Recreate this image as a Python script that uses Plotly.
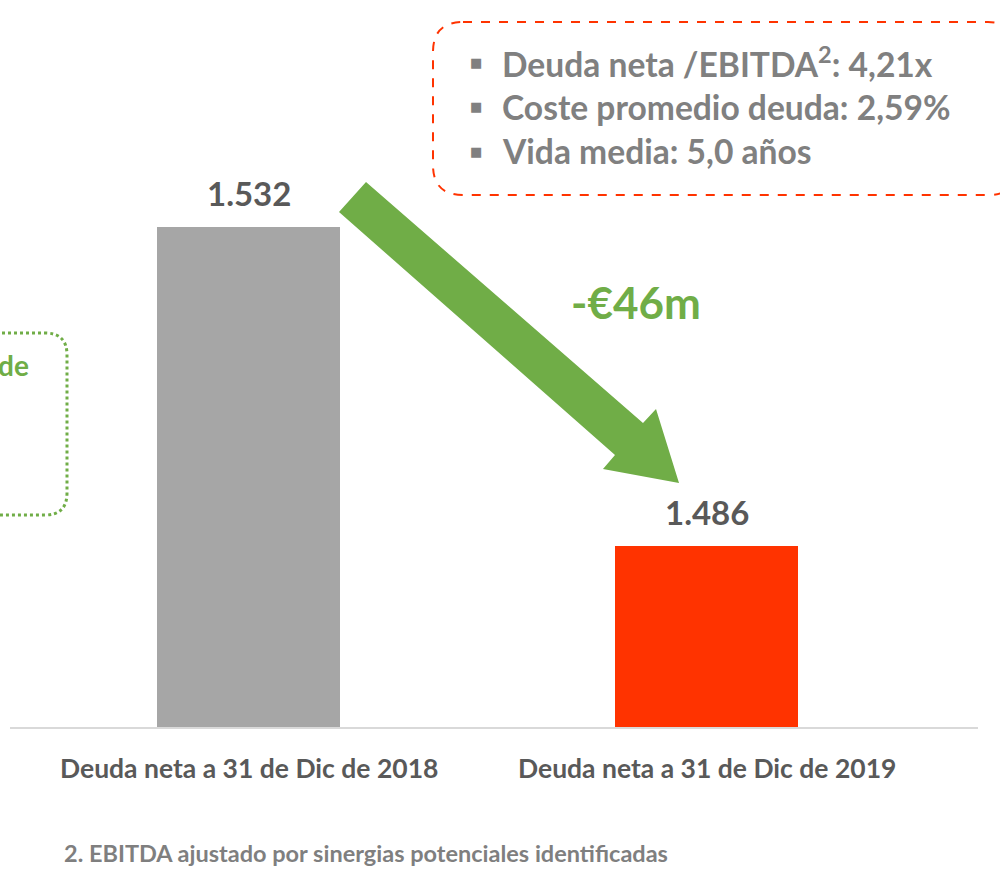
import plotly.graph_objects as go

categories = ["Deuda neta a 31 de Dic de 2018", "Deuda neta a 31 de Dic de 2019"]
values = [1532, 1486]
value_labels = ["1.532", "1.486"]
bar_colors = ["#a6a6a6", "#ff3300"]
change_label = "-€46m"
bullets = ["Deuda neta /EBITDA<sup>2</sup>: 4,21x", "Coste promedio deuda: 2,59%", "Vida media: 5,0 años"]
footnote = "2. EBITDA ajustado por sinergias potenciales identificadas"

FONT = "Lato"
W, H = 1000, 869
L, R, T, B = 10, 22, 0, 142
PW, PH = W - L - R, H - T - B


def fx(px):
    return (px - L) / PW


def fy(py):
    return (H - B - py) / PH


fig = go.Figure()
fig.add_trace(go.Bar(
    x=[0, 1], y=[v - 1459.9 for v in values], base=1459.9,
    marker=dict(color=bar_colors, line=dict(width=0)),
    width=0.4, hoverinfo="skip", showlegend=False,
))

ann = []
for i, (v, lab) in enumerate(zip(values, value_labels)):
    ann.append(dict(x=i, y=v, xref="x", yref="y", text=f"<b>{lab}</b>", showarrow=False,
                    yanchor="middle", yshift=34, font=dict(family=FONT, size=33, color="#595959")))
for i, c in enumerate(categories):
    ann.append(dict(x=i, y=fy(768), xref="x", yref="paper", text=f"<b>{c}</b>", showarrow=False,
                    yanchor="middle", font=dict(family=FONT, size=26.5, color="#595959")))
ann.append(dict(x=fx(62), y=fy(853), xref="paper", yref="paper", text=f"<b>{footnote}</b>",
                showarrow=False, xanchor="left", yanchor="middle",
                font=dict(family=FONT, size=23.5, color="#7f7f7f")))
ann.append(dict(x=fx(636), y=fy(302), xref="paper", yref="paper", text=f"<b>{change_label}</b>",
                showarrow=False, xanchor="center", yanchor="middle",
                font=dict(family=FONT, size=44, color="#70ad47")))
for k, t in enumerate(bullets):
    yy = 62 + 44.5 * k
    ann.append(dict(x=fx(476), y=fy(yy), xref="paper", yref="paper", text="■",
                    showarrow=False, xanchor="center", yanchor="middle",
                    font=dict(family="DejaVu Sans", size=13, color="#808080")))
    ann.append(dict(x=fx(500), y=fy(yy), xref="paper", yref="paper", text=f"<b>{t}</b>",
                    showarrow=False, xanchor="left", yanchor="middle",
                    font=dict(family=FONT, size=33.6, color="#808080")))
ann.append(dict(x=fx(31), y=fy(365), xref="paper", yref="paper", text="<b>de</b>",
                showarrow=False, xanchor="right", yanchor="middle",
                font=dict(family=FONT, size=28, color="#70ad47")))


def rounded(x0, y0, x1, y1, r):
    X = lambda p: f"{fx(p):.5f}"
    Y = lambda p: f"{fy(p):.5f}"
    return (f"M {X(x0 + r)},{Y(y0)} L {X(x1 - r)},{Y(y0)} Q {X(x1)},{Y(y0)} {X(x1)},{Y(y0 + r)} "
            f"L {X(x1)},{Y(y1 - r)} Q {X(x1)},{Y(y1)} {X(x1 - r)},{Y(y1)} "
            f"L {X(x0 + r)},{Y(y1)} Q {X(x0)},{Y(y1)} {X(x0)},{Y(y1 - r)} "
            f"L {X(x0)},{Y(y0 + r)} Q {X(x0)},{Y(y0)} {X(x0 + r)},{Y(y0)} Z")


arrow_px = [(366, 182), (643, 423), (656, 409), (679, 483), (603, 469), (615, 455), (339, 212)]
arrow_path = "M " + " L ".join(f"{fx(a):.5f},{fy(b):.5f}" for a, b in arrow_px) + " Z"

shapes = [
    dict(type="path", xref="paper", yref="paper", path=rounded(433, 22, 1018, 195, 30),
         line=dict(color="#ff3300", width=2, dash="dash"), fillcolor="rgba(0,0,0,0)"),
    dict(type="path", xref="paper", yref="paper", path=rounded(-200, 333, 67, 515, 22),
         line=dict(color="#70ad47", width=3, dash="dot"), fillcolor="rgba(0,0,0,0)"),
    dict(type="path", xref="paper", yref="paper", path=arrow_path,
         line=dict(width=0), fillcolor="#70ad47"),
]

ymin = 1459.9
k = 46 / 319
fig.update_layout(
    width=W, height=H, margin=dict(l=L, r=R, t=T, b=B),
    paper_bgcolor="white", plot_bgcolor="white",
    xaxis=dict(range=[-238.5 / 458, 1 + 271.5 / 458], showline=True, linecolor="#d9d9d9",
               linewidth=2, showticklabels=False, ticks="", showgrid=False, zeroline=False,
               fixedrange=True),
    yaxis=dict(range=[ymin, ymin + PH * k], visible=False, showgrid=False, fixedrange=True),
    annotations=ann, shapes=shapes, bargap=0, showlegend=False,
)
fig.write_html("out.html", config={"displayModeBar": False},
               post_script="document.body.style.margin='0';document.body.style.overflow='hidden';")
